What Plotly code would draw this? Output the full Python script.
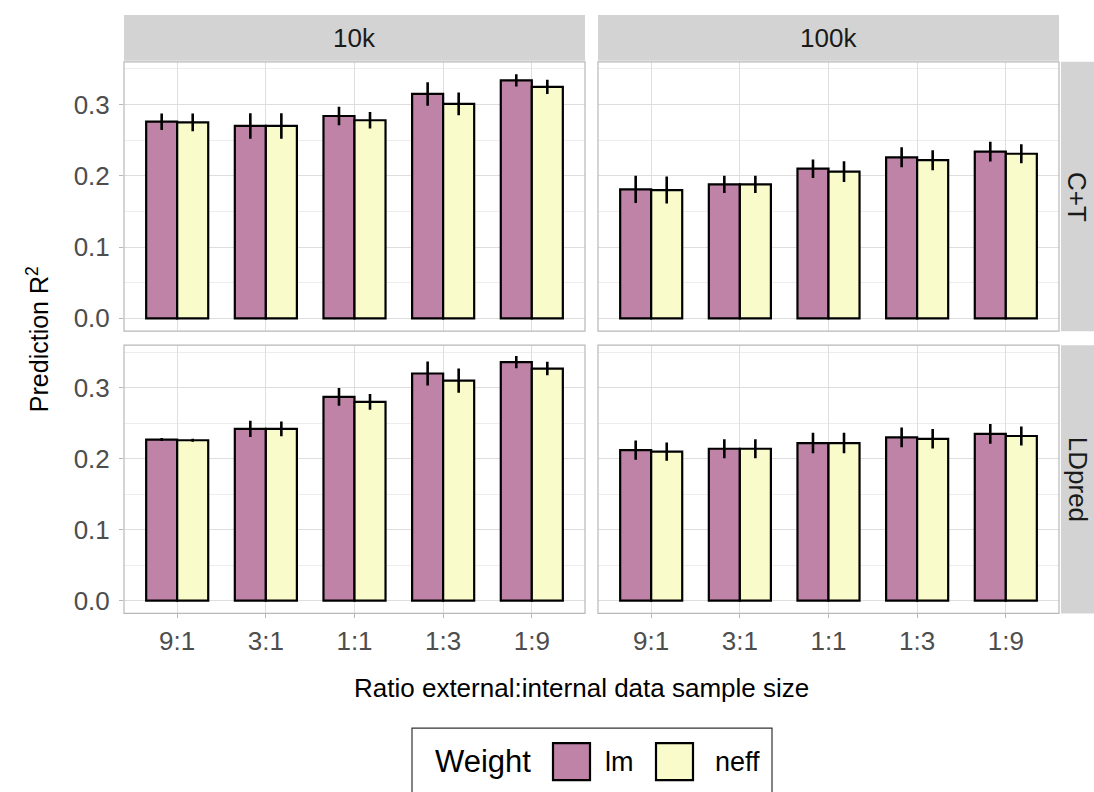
import plotly.graph_objects as go

# ---- data -------------------------------------------------------------
ratios = ["9:1", "3:1", "1:1", "1:3", "1:9"]
sizes = ["10k", "100k"]
methods = ["C+T", "LDpred"]
weights = ["lm", "neff"]

ct_10k_lm = [0.276, 0.270, 0.284, 0.315, 0.334]
ct_10k_lm_se = [0.0115, 0.018, 0.013, 0.0165, 0.0087]
ct_10k_neff = [0.275, 0.270, 0.278, 0.301, 0.325]
ct_10k_neff_se = [0.0125, 0.018, 0.0115, 0.016, 0.010]

ct_100k_lm = [0.181, 0.188, 0.210, 0.226, 0.234]
ct_100k_lm_se = [0.019, 0.012, 0.013, 0.014, 0.014]
ct_100k_neff = [0.180, 0.188, 0.206, 0.222, 0.231]
ct_100k_neff_se = [0.019, 0.012, 0.0145, 0.014, 0.0133]

ld_10k_lm = [0.227, 0.242, 0.287, 0.320, 0.336]
ld_10k_lm_se = [0.002, 0.0115, 0.0125, 0.017, 0.0087]
ld_10k_neff = [0.226, 0.242, 0.280, 0.310, 0.327]
ld_10k_neff_se = [0.002, 0.0105, 0.011, 0.017, 0.0096]

ld_100k_lm = [0.212, 0.214, 0.222, 0.230, 0.235]
ld_100k_lm_se = [0.0135, 0.0135, 0.0144, 0.014, 0.014]
ld_100k_neff = [0.210, 0.214, 0.222, 0.228, 0.232]
ld_100k_neff_se = [0.013, 0.0133, 0.0144, 0.0137, 0.0133]

y_ticks = [0.0, 0.1, 0.2, 0.3]
y_minor = [0.05, 0.15, 0.25, 0.35]

# ---- styling ----------------------------------------------------------
W, H = 1094, 792
FILL = {"lm": "#BE83A6", "neff": "#FAFBCB"}
FONT = "Liberation Sans"
GRID = "#DEDEDE"
MINOR = "#EDEDED"
BORDER = "#B8B8B8"
STRIP = "#D3D3D3"
TICKTXT = "#4D4D4D"
TICK_SIZE = 26


def px(x):
    return x / W


def py(y):
    return 1 - y / H


col_dom = [(124, 585), (598, 1059)]
row_dom = [(62, 332), (346, 615)]

panels = [
    # (row, col, lm, lm_se, neff, neff_se)
    (0, 0, ct_10k_lm, ct_10k_lm_se, ct_10k_neff, ct_10k_neff_se),
    (0, 1, ct_100k_lm, ct_100k_lm_se, ct_100k_neff, ct_100k_neff_se),
    (1, 0, ld_10k_lm, ld_10k_lm_se, ld_10k_neff, ld_10k_neff_se),
    (1, 1, ld_100k_lm, ld_100k_lm_se, ld_100k_neff, ld_100k_neff_se),
]

fig = go.Figure()
layout = {}
shapes = []
annotations = []

for i, (r, c, lm, lm_se, nf, nf_se) in enumerate(panels):
    n = "" if i == 0 else str(i + 1)
    xa, ya = "x" + n, "y" + n
    for name, vals, se in (("lm", lm, lm_se), ("neff", nf, nf_se)):
        fig.add_trace(go.Bar(
            x=ratios, y=vals, name=name, xaxis=xa, yaxis=ya,
            offsetgroup=name, showlegend=False,
            marker=dict(color=FILL[name], line=dict(color="black", width=2.2)),
            error_y=dict(type="data", array=se, visible=True,
                         color="black", thickness=2.6, width=0),
        ))
    x0, x1 = col_dom[c]
    y0, y1 = row_dom[r]
    layout["xaxis" + n] = dict(
        domain=[px(x0), px(x1)], anchor=ya, type="category",
        categoryorder="array", categoryarray=ratios,
        range=[-0.6, 4.6], showgrid=True, gridcolor=GRID, gridwidth=1,
        zeroline=False, showline=False,
        ticks="outside" if r == 1 else "", ticklen=4, tickcolor=BORDER,
        showticklabels=(r == 1),
        tickfont=dict(family=FONT, size=TICK_SIZE, color=TICKTXT),
    )
    layout["yaxis" + n] = dict(
        domain=[py(y1), py(y0)], anchor=xa,
        range=[-0.018, 0.36], tickvals=y_ticks,
        ticktext=[f"{v:.1f}" for v in y_ticks],
        showgrid=True, gridcolor=GRID, gridwidth=1,
        minor=dict(tickvals=y_minor, showgrid=True, gridcolor=MINOR, gridwidth=0.6),
        zeroline=False, showline=False,
        ticks="outside" if c == 0 else "", ticklen=4, tickcolor=BORDER,
        showticklabels=(c == 0), ticklabelstandoff=4,
        tickfont=dict(family=FONT, size=TICK_SIZE, color=TICKTXT),
    )
    # panel border
    shapes.append(dict(type="rect", xref="paper", yref="paper",
                       x0=px(x0), x1=px(x1), y0=py(y1), y1=py(y0),
                       line=dict(color=BORDER, width=1.2), fillcolor="rgba(0,0,0,0)",
                       layer="above"))

# column strips
for c, label in enumerate(sizes):
    x0, x1 = col_dom[c]
    shapes.append(dict(type="rect", xref="paper", yref="paper",
                       x0=px(x0), x1=px(x1), y0=py(61), y1=py(15),
                       line=dict(width=0), fillcolor=STRIP, layer="below"))
    annotations.append(dict(text=label, xref="paper", yref="paper",
                            x=px((x0 + x1) / 2), y=py(38), showarrow=False,
                            font=dict(family=FONT, size=TICK_SIZE, color="#1A1A1A"),
                            xanchor="center", yanchor="middle"))

# row strips
for r, label in enumerate(methods):
    y0, y1 = row_dom[r]
    shapes.append(dict(type="rect", xref="paper", yref="paper",
                       x0=px(1061), x1=px(1094), y0=py(y1), y1=py(y0),
                       line=dict(width=0), fillcolor=STRIP, layer="below"))
    annotations.append(dict(text=label, xref="paper", yref="paper",
                            x=px(1077.5), y=py((y0 + y1) / 2), showarrow=False,
                            textangle=90,
                            font=dict(family=FONT, size=TICK_SIZE, color="#1A1A1A"),
                            xanchor="center", yanchor="middle"))

# axis titles
annotations.append(dict(text="Ratio external:internal data sample size",
                        xref="paper", yref="paper", x=px(581), y=py(690),
                        showarrow=False, xanchor="center", yanchor="middle",
                        font=dict(family=FONT, size=26, color="black")))
annotations.append(dict(text="Prediction R<sup>2</sup>",
                        xref="paper", yref="paper", x=px(38), y=py(340),
                        showarrow=False, textangle=-90,
                        xanchor="center", yanchor="middle",
                        font=dict(family=FONT, size=25, color="black")))

# legend box
shapes.append(dict(type="rect", xref="paper", yref="paper",
                   x0=px(412), x1=px(772), y0=py(796), y1=py(730),
                   line=dict(color="#333333", width=1.2), fillcolor="white"))
annotations.append(dict(text="Weight", xref="paper", yref="paper",
                        x=px(433), y=py(763), showarrow=False,
                        xanchor="left", yanchor="middle",
                        font=dict(family=FONT, size=31, color="black")))
for name, kx, tx in (("lm", 553, 603), ("neff", 656, 713)):
    shapes.append(dict(type="rect", xref="paper", yref="paper",
                       x0=px(kx), x1=px(kx + 37), y0=py(782), y1=py(745),
                       line=dict(color="black", width=2.2), fillcolor=FILL[name]))
    annotations.append(dict(text=name, xref="paper", yref="paper",
                            x=px(tx), y=py(764), showarrow=False,
                            xanchor="left", yanchor="middle",
                            font=dict(family=FONT, size=27, color="black")))

fig.update_layout(
    width=W, height=H, margin=dict(l=0, r=0, t=0, b=0),
    paper_bgcolor="white", plot_bgcolor="white",
    barmode="group", bargap=0.3, bargroupgap=0,
    shapes=shapes, annotations=annotations,
    font=dict(family=FONT),
    **layout,
)

fig.write_html("out.html")
